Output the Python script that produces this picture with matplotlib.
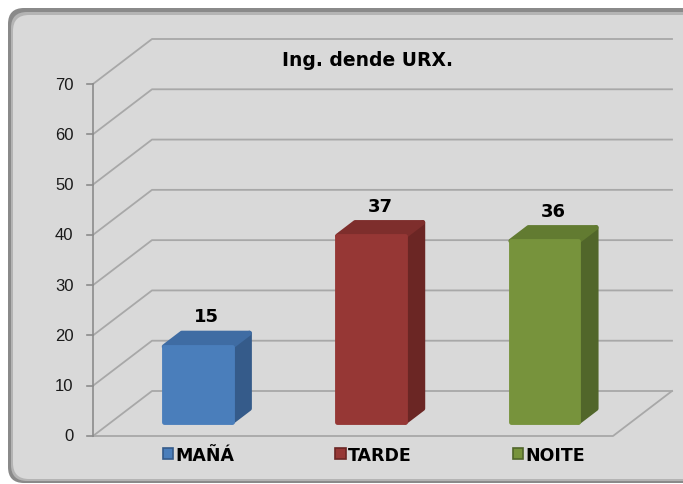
import numpy as np
import matplotlib.pyplot as plt
from matplotlib.patches import Polygon, FancyBboxPatch, Patch

# datos do gráfico
categorias = ['MAÑÁ', 'TARDE', 'NOITE']
valores = [15, 37, 36]
marcas_y = list(range(0, 71, 10))
titulo = 'Ing. dende URX.'

cor_frente = ['#4a7ebb', '#963735', '#77933c']
cor_lado = ['#355b8a', '#6b2624', '#51662a']
cor_topo = ['#3f6ca3', '#7e2e2c', '#627b31']

W, H = 683, 485
fig = plt.figure(figsize=(W / 100, H / 100), dpi=100)
fig.patch.set_facecolor('white')

# fondo con marco redondeado (coordenadas en píxeles)
fondo = fig.add_axes([0, 0, 1, 1], zorder=0)
fondo.set_xlim(0, W)
fondo.set_ylim(H, 0)
fondo.axis('off')
for (x0, y0, x1, y1, c) in [(8, 9, 730, 484, '#8a8a8a'),
                            (11, 13, 730, 482, '#b4b4b4'),
                            (13, 16, 730, 480, '#d9d9d9')]:
    fondo.add_patch(FancyBboxPatch((x0, y0), x1 - x0, y1 - y0,
                                   boxstyle='round,pad=0,rounding_size=16',
                                   facecolor=c, edgecolor='none'))

# eixo principal: plano frontal
ax = fig.add_axes([93 / W, (H - 437) / H, 520 / W, 352 / H], zorder=1)
ax.set_xlim(-0.5, len(categorias) - 0.5)
ax.set_ylim(0, 70)
ax.axis('off')
ax.patch.set_alpha(0)

px_x = 520 / len(categorias)   # píxeles por unidade x
px_y = 352 / 70                # píxeles por unidade y
DX, DY = 59 / px_x, 45 / px_y  # profundidade da parede

xi, xf = -0.5, len(categorias) - 0.5
cor_grella = '#a8a8a8'

# liñas da parede do fondo e diagonais
for v in marcas_y:
    ax.plot([xi, xi + DX, xf + DX], [v, v + DY, v + DY], color=cor_grella,
            lw=1.3, clip_on=False, zorder=1)
    ax.plot([xi - 0.035, xi], [v, v], color='#8c8c8c', lw=1.2, clip_on=False)
    ax.annotate(str(v), (xi, v), xytext=(-14, 0), textcoords='offset points',
                ha='right', va='center', fontsize=12, family='Liberation Sans',
                color='#1a1a1a')

# chan
ax.plot([xi, xf, xf + DX], [0, 0, DY], color=cor_grella, lw=1.3,
        clip_on=False, zorder=1)
ax.plot([xi, xi], [0, 70], color='#8c8c8c', lw=1.2, clip_on=False, zorder=2)

# barras 3D
larg = 0.39
f1, f2 = 0.31, 0.3
for i, v in enumerate(valores):
    ox, oy = f1 * DX, f1 * DY
    bx, by = f2 * DX, f2 * DY
    x0, x1 = i - larg / 2 + ox, i + larg / 2 + ox
    y0, y1 = oy, v + oy
    lado = [(x1, y0), (x1 + bx, y0 + by), (x1 + bx, y1 + by), (x1, y1)]
    topo = [(x0, y1), (x1, y1), (x1 + bx, y1 + by), (x0 + bx, y1 + by)]
    frente = [(x0, y0), (x1, y0), (x1, y1), (x0, y1)]
    for pts, c in [(lado, cor_lado[i]), (topo, cor_topo[i]), (frente, cor_frente[i])]:
        ax.add_patch(Polygon(pts, closed=True, facecolor=c, edgecolor=c,
                             lw=3.5, joinstyle='round', clip_on=False, zorder=3))
    ax.annotate(str(v), (i + ox + bx / 2, y1 + by / 2), xytext=(0, 17),
                textcoords='offset points', ha='center', va='center',
                fontsize=13, fontweight='bold', color='black', zorder=5)

# título
fig.text(367 / W, (H - 60) / H, titulo, ha='center', va='center',
         fontsize=13.5, fontweight='bold', color='black')

# lenda na parte inferior
asas = [Patch(facecolor=cor_frente[i], edgecolor=cor_lado[i], lw=1.2)
        for i in range(len(categorias))]
ax.legend(asas, categorias, loc='center', ncol=3, frameon=False,
          bbox_to_anchor=(374 / W, (H - 456) / H), bbox_transform=fig.transFigure,
          handlelength=0.6, handleheight=0.6, handletextpad=0.15,
          columnspacing=5.8, prop={'weight': 'bold', 'size': 12.5})

fig.savefig('out.png', dpi=100)
